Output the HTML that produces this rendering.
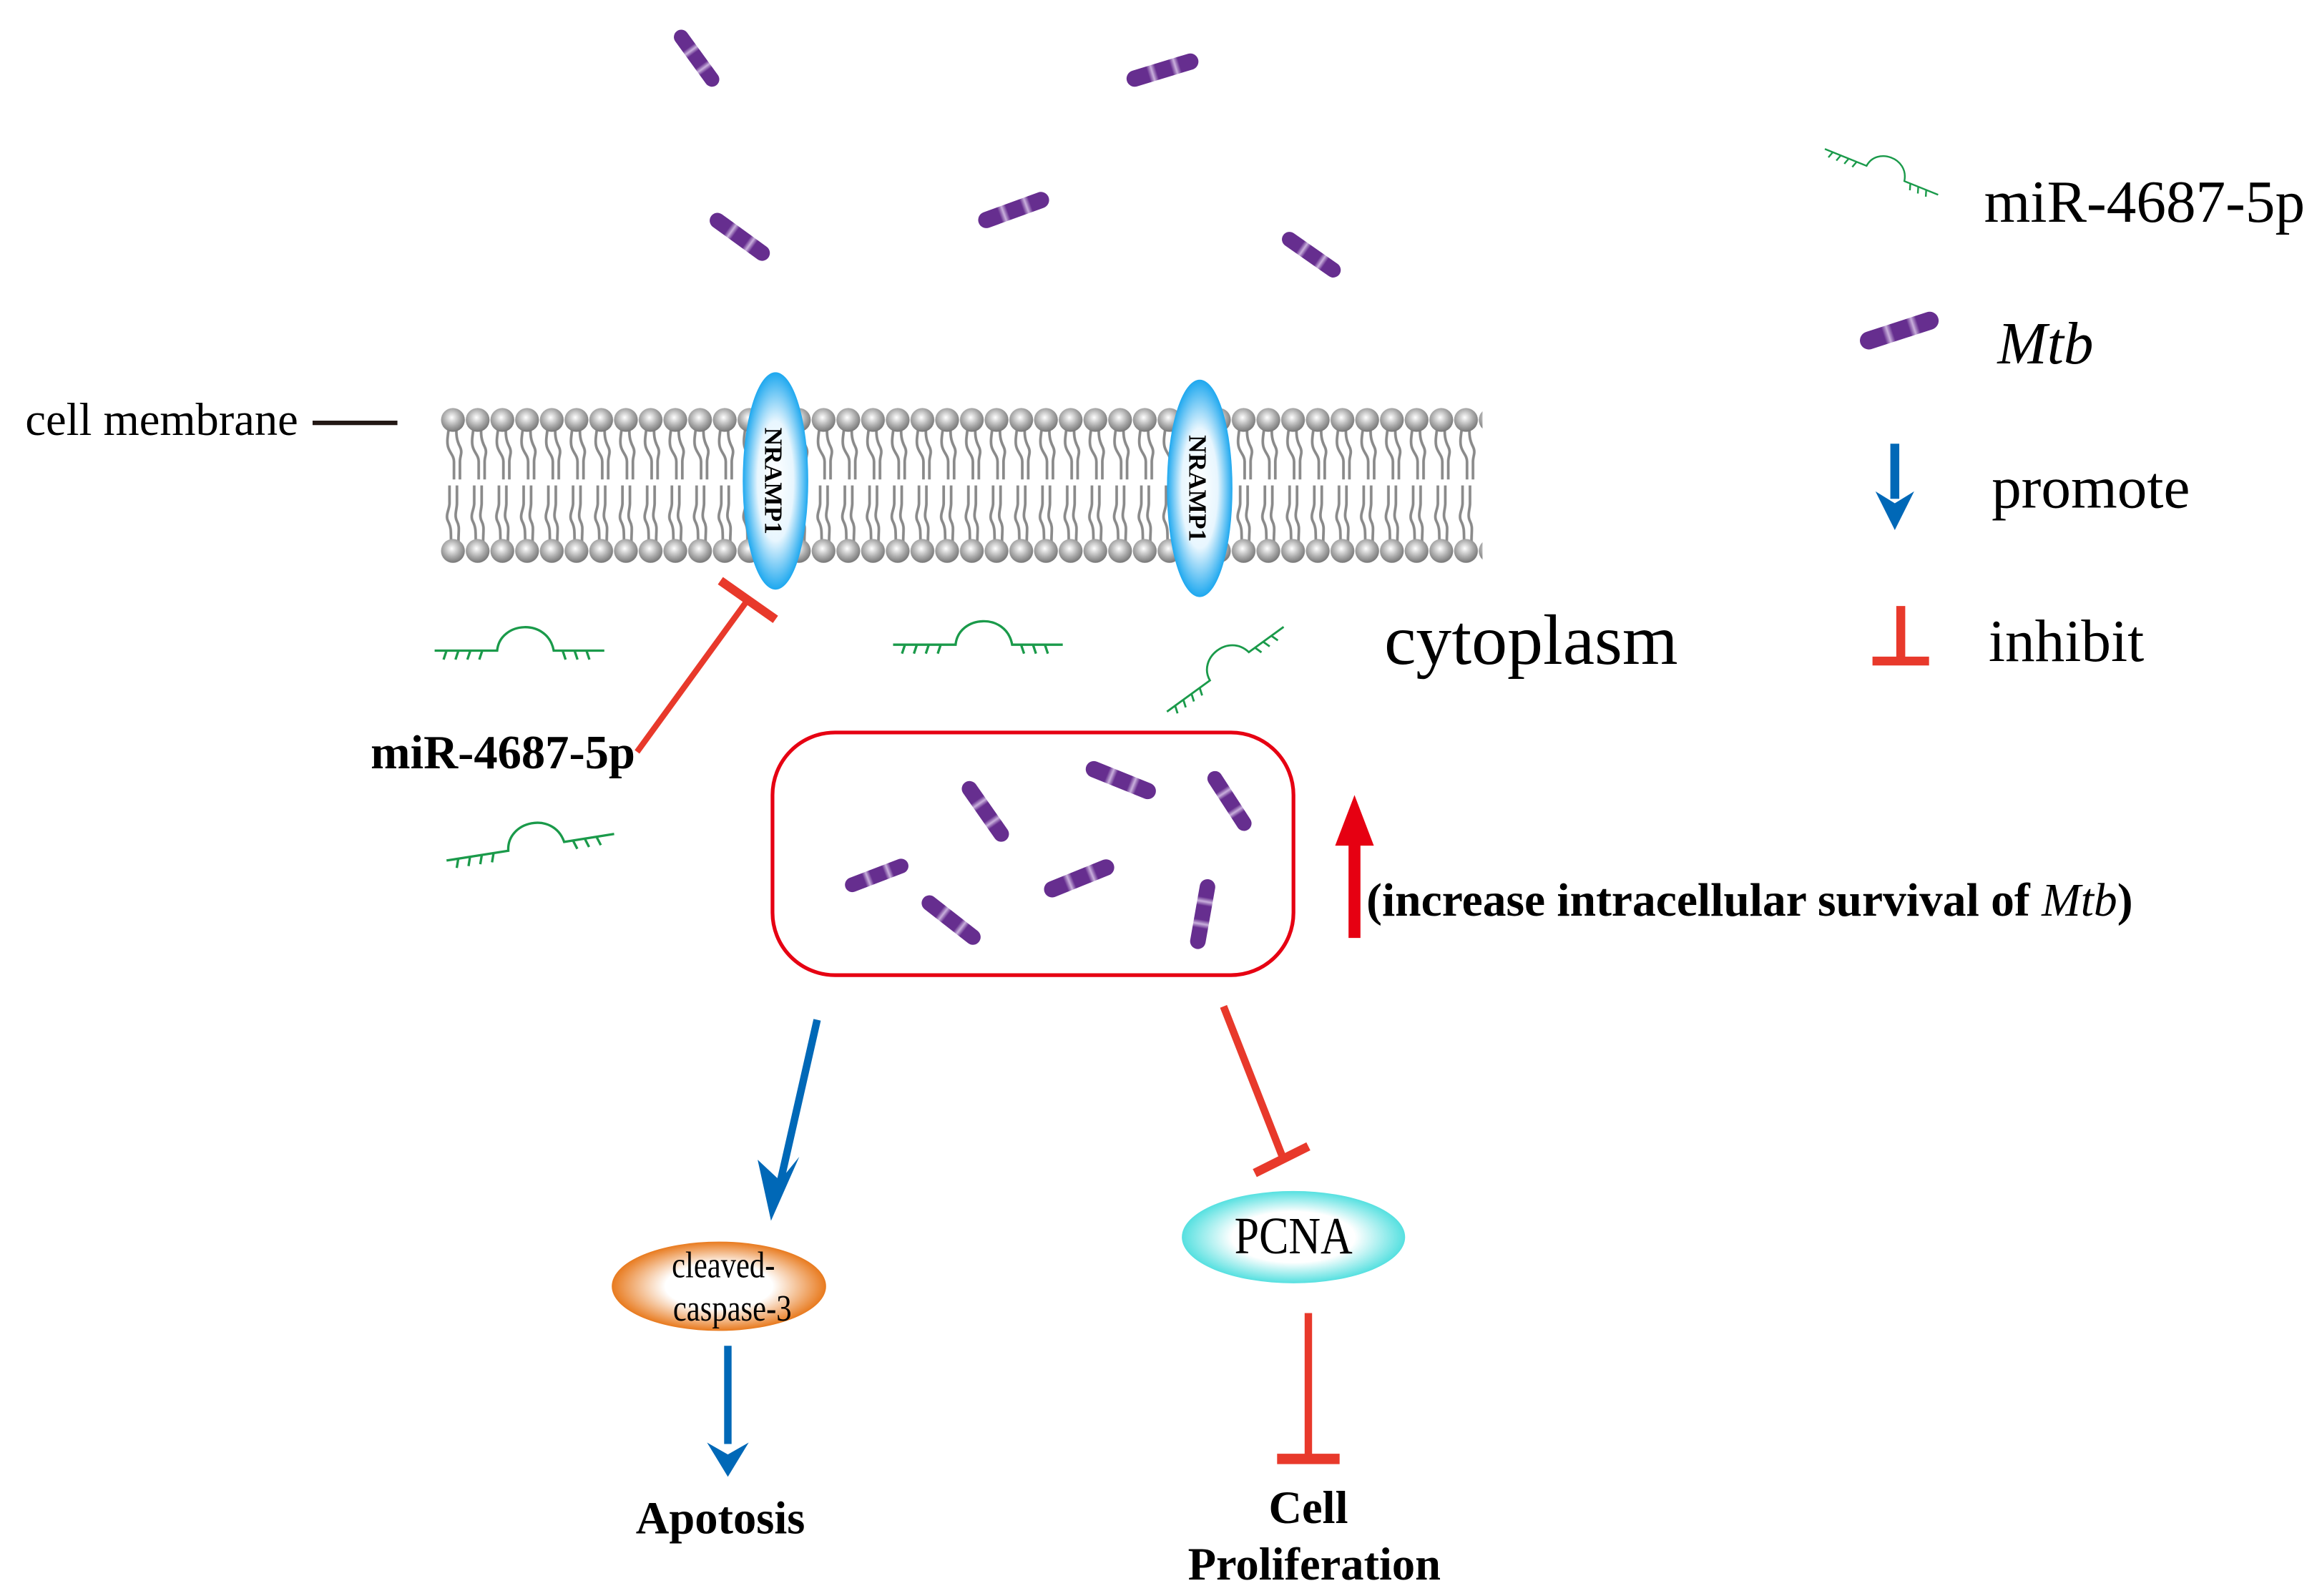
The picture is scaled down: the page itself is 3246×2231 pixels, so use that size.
<!DOCTYPE html>
<html><head><meta charset="utf-8"><style>html,body{margin:0;padding:0;background:#fff}svg{display:block}</style></head>
<body>
<svg width="3246" height="2231" viewBox="0 0 1560 1072" xmlns="http://www.w3.org/2000/svg" font-family="'Liberation Serif', serif">
<defs>
<radialGradient id="head" cx="0.45" cy="0.4" r="0.6"><stop offset="0" stop-color="#fff"/><stop offset="0.6" stop-color="#aaa"/><stop offset="1" stop-color="#777"/></radialGradient>
<radialGradient id="blue" cx="0.5" cy="0.5" r="0.5"><stop offset="0" stop-color="#fff"/><stop offset="0.55" stop-color="#e8f6fe"/><stop offset="1" stop-color="#1ea8ef"/></radialGradient>
<radialGradient id="orange" cx="0.5" cy="0.5" r="0.5"><stop offset="0" stop-color="#fff"/><stop offset="0.5" stop-color="#fff"/><stop offset="1" stop-color="#e87a1e"/></radialGradient>
<radialGradient id="cyan" cx="0.5" cy="0.5" r="0.5"><stop offset="0" stop-color="#fff"/><stop offset="0.55" stop-color="#fff"/><stop offset="1" stop-color="#55e0e0"/></radialGradient>
<linearGradient id="rod" x1="0" y1="0" x2="1" y2="0">
<stop offset="0" stop-color="#662e8f"/><stop offset="0.3" stop-color="#662e8f"/><stop offset="0.36" stop-color="#c9b0dc"/><stop offset="0.42" stop-color="#662e8f"/><stop offset="0.62" stop-color="#662e8f"/><stop offset="0.68" stop-color="#c9b0dc"/><stop offset="0.74" stop-color="#662e8f"/><stop offset="1" stop-color="#662e8f"/></linearGradient>
<pattern id="lip" x="296" y="270" width="16.6" height="116" patternUnits="userSpaceOnUse">
<path d="M6 14 C5 22,4 26,5 30 S9 36,9 40 L9 52 M11 14 C10 22,11 26,13 30 S13 36,13 40 L13 52 M6 56 L6 68 C6 72,3 76,5 80 S7 86,7 94 M11 56 L11 68 C11 72,9 76,11 80 S12 86,12 94" stroke="#8a8a8a" stroke-width="1.8" fill="none"/>
<circle cx="8.3" cy="12" r="8" fill="url(#head)"/>
<circle cx="8.3" cy="100" r="8" fill="url(#head)"/>
</pattern>
<g id="mtb"><rect x="-25" y="-5.5" width="50" height="11" rx="5.5" fill="url(#rod)"/></g>
<g id="mir" fill="none" stroke="#1a9a4a" stroke-width="1.6">
<path d="M0 0 L42 0 C44 -20,76 -22,80 0 L114 0 M8 0 l-2 6 M16 0 l-2 6 M24 0 l-2 6 M32 0 l-2 6 M86 0 l2 6 M94 0 l2 6 M102 0 l2 6"/>
</g>
</defs>

<rect x="296" y="270" width="700" height="116" fill="url(#lip)"/>
<ellipse cx="521" cy="323" rx="22" ry="73" fill="url(#blue)"/>
<ellipse cx="806" cy="328" rx="22" ry="73" fill="url(#blue)"/>
<text transform="translate(514,323) rotate(90)" text-anchor="middle" font-size="17" font-weight="bold">NRAMP1</text>
<text transform="translate(799,328) rotate(90)" text-anchor="middle" font-size="17" font-weight="bold">NRAMP1</text>

<text x="17" y="292" font-size="31">cell membrane</text>
<line x1="210" y1="284" x2="267" y2="284" stroke="#231815" stroke-width="3"/>

<use href="#mtb" transform="translate(468,39) rotate(54) scale(0.9)"/>
<use href="#mtb" transform="translate(781,47) rotate(-17) scale(1.0)"/>
<use href="#mtb" transform="translate(497,159) rotate(36) scale(0.95)"/>
<use href="#mtb" transform="translate(681,141) rotate(-20) scale(1.0)"/>
<use href="#mtb" transform="translate(881,171) rotate(35) scale(0.92)"/>

<rect x="519" y="492" width="350" height="163" rx="42" fill="none" stroke="#e60012" stroke-width="2.5"/>
<use href="#mtb" transform="translate(662,545) rotate(55) scale(0.95)"/>
<use href="#mtb" transform="translate(753,524) rotate(22) scale(1.0)"/>
<use href="#mtb" transform="translate(826,538) rotate(57) scale(0.92)"/>
<use href="#mtb" transform="translate(589,588) rotate(-21) scale(0.9)"/>
<use href="#mtb" transform="translate(725,590) rotate(-22) scale(1.0)"/>
<use href="#mtb" transform="translate(639,618) rotate(38) scale(0.95)"/>
<use href="#mtb" transform="translate(808,614) rotate(-80) scale(0.95)"/>

<use href="#mir" transform="translate(292,437)"/>
<use href="#mir" transform="translate(600,433)"/>
<use href="#mir" transform="translate(300,578) rotate(-9)"/>
<use href="#mir" transform="translate(784,478) rotate(-36) scale(0.85)"/>
<use href="#mir" transform="translate(1226,100) rotate(22) scale(0.72)"/>

<text x="930" y="446" font-size="48">cytoplasm</text>

<line x1="428" y1="505" x2="503" y2="402" stroke="#e8392b" stroke-width="4"/>
<line x1="484" y1="390" x2="521" y2="416" stroke="#e8392b" stroke-width="6"/>
<text x="249" y="516" font-size="32" font-weight="bold">miR-4687-5p</text>

<line x1="910" y1="630" x2="910" y2="565" stroke="#e60012" stroke-width="8"/>
<polygon points="897,568 910,534 923,568" fill="#e60012"/>
<text x="918" y="615" font-size="31.5" font-weight="bold">(increase intracellular survival of <tspan font-style="italic" font-weight="normal">Mtb</tspan>)</text>

<line x1="549" y1="685" x2="524" y2="795" stroke="#0068b7" stroke-width="5"/>
<polygon points="509,779 518,820 537,777 524,793" fill="#0068b7"/>
<ellipse cx="483" cy="864" rx="72" ry="30" fill="url(#orange)"/>
<text transform="translate(486,858) scale(0.82,1)" text-anchor="middle" font-size="25">cleaved-</text>
<text transform="translate(492,887) scale(0.82,1)" text-anchor="middle" font-size="25">caspase-3</text>
<line x1="489" y1="904" x2="489" y2="970" stroke="#0068b7" stroke-width="5"/>
<polygon points="475,969 489,992 503,969 489,977" fill="#0068b7"/>
<text x="484" y="1030" text-anchor="middle" font-size="31" font-weight="bold">Apotosis</text>

<line x1="822" y1="676" x2="862" y2="778" stroke="#e8392b" stroke-width="5"/>
<line x1="843" y1="788" x2="879" y2="770" stroke="#e8392b" stroke-width="6"/>
<ellipse cx="869" cy="831" rx="75" ry="31" fill="url(#cyan)"/>
<text transform="translate(869,842) scale(0.85,1)" text-anchor="middle" font-size="35">PCNA</text>
<line x1="879" y1="882" x2="879" y2="978" stroke="#e8392b" stroke-width="5"/>
<line x1="858" y1="980" x2="900" y2="980" stroke="#e8392b" stroke-width="7"/>
<text x="879" y="1023" text-anchor="middle" font-size="31" font-weight="bold">Cell</text>
<text x="883" y="1061" text-anchor="middle" font-size="31" font-weight="bold">Proliferation</text>

<text x="1333" y="149" font-size="40">miR-4687-5p</text>
<use href="#mtb" transform="translate(1276,222) rotate(-18) scale(1.1)"/>
<text x="1342" y="244" font-size="40" font-style="italic">Mtb</text>
<line x1="1273" y1="298" x2="1273" y2="335" stroke="#0068b7" stroke-width="6"/>
<polygon points="1260,330 1273,356 1286,330 1273,338" fill="#0068b7"/>
<text x="1338" y="341" font-size="40">promote</text>
<line x1="1277" y1="407" x2="1277" y2="443" stroke="#e8392b" stroke-width="6"/>
<line x1="1258" y1="444" x2="1296" y2="444" stroke="#e8392b" stroke-width="6"/>
<text x="1336" y="444" font-size="40">inhibit</text>
</svg>
</body></html>
